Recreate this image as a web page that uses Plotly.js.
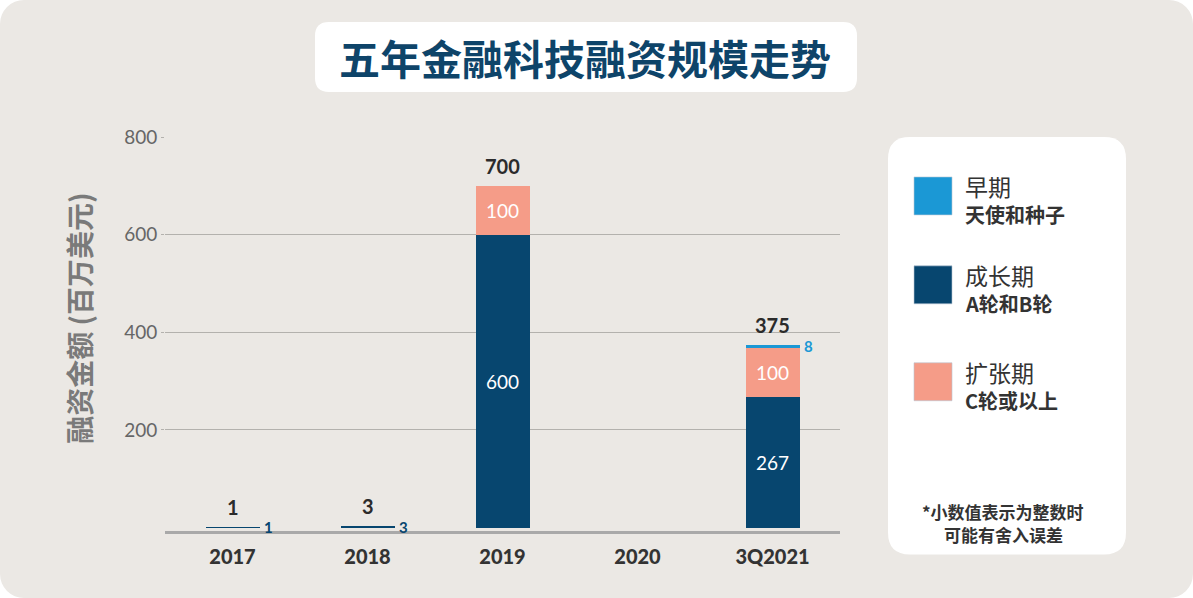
<!DOCTYPE html>
<html>
<head>
<meta charset="utf-8">
<script src="https://cdn.plot.ly/plotly-3.0.1.min.js"></script>
<style>
  html, body { margin: 0; padding: 0; background: #ffffff; }
  #wrap { width: 1193px; height: 598px; background: #ebe8e4; border-radius: 24px; overflow: hidden; }
  #chart { width: 1193px; height: 598px; }
</style>
</head>
<body>
<div id="wrap"><div id="chart"></div></div>
<script>
// ---- data ----
const categories = ['2017', '2018', '2019', '2020', '3Q2021'];
const growth = [1, 3, 600, 0, 267];       // 成长期 A轮和B轮
const expansion = [0, 0, 100, 0, 100];    // 扩张期 C轮或以上
const early = [0, 0, 0, 0, 8];            // 早期 天使和种子
const totals = [1, 3, 700, null, 375];
const yTicks = [200, 400, 600, 800];
const seriesNames = ['早期', '成长期', '扩张期'];
const seriesSubs = ['天使和种子', 'A轮和B轮', 'C轮或以上'];
const chartTitle = '五年金融科技融资规模走势';
const yTitle = '融资金额 (百万美元)';
const footnote = ['*小数值表示为整数时', '可能有舍入误差'];

// ---- styles ----
const C_EARLY = '#1b98d5', C_GROWTH = '#07466f', C_EXP = '#f59c88';
const LATIN = 'Lato, "Noto Sans CJK SC", sans-serif';
const CJK = '"Noto Sans CJK SC", sans-serif';

const PL = 165, PR = 840, PT = 137, PB = 531.4;
const fx = x => (x - PL) / (PR - PL);
const fy = y => (PB - y) / (PB - PT);

function roundRect(x0, y0, x1, y1, r) {
  const p = (x, y) => fx(x) + ',' + fy(y);
  return 'M' + p(x0 + r, y0) + ' L' + p(x1 - r, y0) + ' Q' + p(x1, y0) + ' ' + p(x1, y0 + r) +
    ' L' + p(x1, y1 - r) + ' Q' + p(x1, y1) + ' ' + p(x1 - r, y1) +
    ' L' + p(x0 + r, y1) + ' Q' + p(x0, y1) + ' ' + p(x0, y1 - r) +
    ' L' + p(x0, y0 + r) + ' Q' + p(x0, y0) + ' ' + p(x0 + r, y0) + ' Z';
}

const seriesVals = [growth, expansion, early];
const seriesCols = [C_GROWTH, C_EXP, C_EARLY];
const traces = seriesVals.map((vals, i) => ({
  type: 'bar', x: categories, y: vals.map(v => v > 0 ? v : null), width: 0.4,
  marker: { color: seriesCols[i], line: { width: 0 } },
  hoverinfo: 'skip', showlegend: false
}));

const annotations = [];
// segment labels (x given as category index)
const base = categories.map(() => 0);
seriesVals.forEach((vals, i) => {
  vals.forEach((v, j) => {
    if (v > 0) {
      const mid = base[j] + v / 2;
      if (v >= 50) {
        annotations.push({ x: j, y: mid, xref: 'x', yref: 'y', text: String(v), showarrow: false,
          xanchor: 'center', yanchor: 'middle',
          font: { family: LATIN, size: 19, color: '#ffffff' } });
      } else {
        annotations.push({ x: j, y: mid, xref: 'x', yref: 'y', text: '<b>' + v + '</b>', showarrow: false,
          xanchor: 'left', yanchor: 'middle', xshift: 29, font: { family: LATIN, size: 15, color: seriesCols[i] } });
      }
    }
    base[j] += v;
  });
});
// totals
totals.forEach((t, j) => {
  if (t !== null) {
    annotations.push({ x: j, y: t, xref: 'x', yref: 'y', text: '<b>' + t + '</b>', showarrow: false,
      xanchor: 'center', yanchor: 'bottom', yshift: 6, font: { family: LATIN, size: 20, color: '#2b2b2b' } });
  }
});
// title
annotations.push({ x: fx(585), y: fy(57), xref: 'paper', yref: 'paper', text: '<b>' + chartTitle + '</b>', showarrow: false,
  xanchor: 'center', yanchor: 'middle', font: { family: CJK, size: 41, color: '#0e4469' } });
// y title
annotations.push({ x: fx(79), y: fy(318), xref: 'paper', yref: 'paper', text: '<b>' + yTitle + '</b>', showarrow: false,
  xanchor: 'center', yanchor: 'middle', textangle: -90, font: { family: CJK, size: 28, color: '#7a7a7a' } });
// legend
const legendTops = [177, 266, 363];
const legendCols = [C_EARLY, C_GROWTH, C_EXP];
const shapes = [
  { type: 'path', xref: 'paper', yref: 'paper', path: roundRect(315, 22, 857, 92, 14), fillcolor: '#ffffff', line: { width: 0 }, layer: 'below' },
  { type: 'path', xref: 'paper', yref: 'paper', path: roundRect(888, 137, 1126, 555, 22), fillcolor: '#ffffff', line: { width: 0 }, layer: 'below' }
];
seriesNames.forEach((n, i) => {
  const t = legendTops[i];
  shapes.push({ type: 'rect', xref: 'paper', yref: 'paper', x0: fx(914), x1: fx(952), y0: fy(t), y1: fy(t + 38),
    fillcolor: legendCols[i], line: { color: 'rgba(185,198,212,0.6)', width: 1 } });
  annotations.push({ x: fx(963), y: fy(t + 9), xref: 'paper', yref: 'paper', xanchor: 'left', yanchor: 'middle', text: n, showarrow: false,
    font: { family: CJK, size: 23, color: '#333333' } });
  annotations.push({ x: fx(963), y: fy(t + 38), xref: 'paper', yref: 'paper', xanchor: 'left', yanchor: 'middle', text: '<b>' + seriesSubs[i] + '</b>', showarrow: false,
    font: { family: CJK, size: 20, color: '#333333' } });
});
footnote.forEach((line, i) => {
  annotations.push({ x: fx(1003), y: fy(512 + i * 23), xref: 'paper', yref: 'paper', xanchor: 'center', yanchor: 'middle',
    text: '<b>' + line + '</b>', showarrow: false, font: { family: CJK, size: 17, color: '#333333' } });
});

const layout = {
  width: 1193, height: 598,
  margin: { l: PL, r: 1193 - PR, t: PT, b: 598 - PB },
  paper_bgcolor: 'rgba(0,0,0,0)', plot_bgcolor: 'rgba(0,0,0,0)',
  barmode: 'stack',
  xaxis: {
    type: 'category', range: [-0.5, 4.5], showgrid: false, zeroline: false,
    showline: true, linecolor: '#a9a9a9', linewidth: 3,
    ticks: 'outside', ticklen: 6, tickcolor: 'rgba(0,0,0,0)',
    tickfont: { family: LATIN, size: 20, color: '#333333', weight: 900 }
  },
  yaxis: {
    range: [-7, 800], tickvals: yTicks, showgrid: true, gridcolor: '#b3b1ad', gridwidth: 1,
    zeroline: false, showline: false, ticks: 'outside', ticklen: 3, tickcolor: '#b3b1ad',
    tickfont: { family: LATIN, size: 19, color: '#666666' }
  },
  annotations: annotations,
  shapes: shapes
};

Plotly.newPlot('chart', traces, layout, { displayModeBar: false, staticPlot: true });
</script>
</body>
</html>
